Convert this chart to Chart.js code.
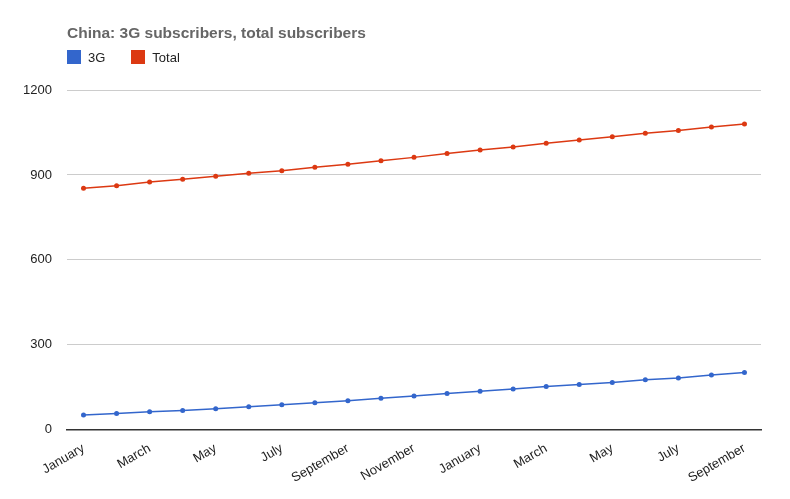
<!DOCTYPE html>
<html>
<head>
<meta charset="utf-8">
<script src="https://cdn.jsdelivr.net/npm/chart.js@4/dist/chart.umd.min.js"></script>
<style>
  html, body { margin: 0; padding: 0; background: #fff; }
  #wrap { position: relative; width: 790px; height: 499px; font-family: "Liberation Sans", Arial, sans-serif; }
  #title { position: absolute; left: 67px; top: 24px; font-size: 15.5px; font-weight: bold; color: #666; }
  #legend { position: absolute; left: 67px; top: 50px; font-size: 13px; color: #222; }
  .item { display: inline-block; margin-right: 26px; }
  .sw { display: inline-block; width: 14px; height: 14px; vertical-align: -2px; margin-right: 7px; }
  canvas { position: absolute; left: 0; top: 0; }
</style>
</head>
<body>
<div id="wrap">
  <canvas id="myChart" width="790" height="499"></canvas>
  <div id="title">China: 3G subscribers, total subscribers</div>
  <div id="legend"></div>
</div>
<script>
const months = ["January", "February", "March", "April", "May", "June", "July", "August",
  "September", "October", "November", "December",
  "January", "February", "March", "April", "May", "June", "July", "August", "September"];
const subs3g = [52, 57, 63, 68, 74, 81, 88, 95, 102, 111, 119, 128, 136, 144, 153, 160, 167, 176, 183, 193, 202];
const subsTotal = [853, 862, 875, 885, 895, 906, 915, 927, 938, 950, 962, 976, 988, 999, 1012, 1023, 1035, 1047, 1057, 1069, 1080];
const yTicks = [0, 300, 600, 900, 1200];

const blue = "#3366cc";
const red = "#dc3912";

const legend = document.getElementById("legend");
[["3G", blue], ["Total", red]].forEach(([name, color]) => {
  const el = document.createElement("span");
  el.className = "item";
  el.innerHTML = '<span class="sw" style="background:' + color + '"></span>' + name;
  legend.appendChild(el);
});

const data = {
  labels: months,
  datasets: [
    { label: "3G", data: subs3g, borderColor: blue, backgroundColor: blue },
    { label: "Total", data: subsTotal, borderColor: red, backgroundColor: red },
  ],
};

const config = {
  type: "line",
  data: data,
  options: {
    responsive: false,
    animation: false,
    layout: { padding: { top: 90, right: 29, bottom: 10, left: 0 } },
    elements: {
      line: { borderWidth: 1.5, tension: 0 },
      point: { radius: 2.5, borderWidth: 0 },
    },
    plugins: { legend: { display: false }, title: { display: false }, tooltip: { enabled: false } },
    scales: {
      x: {
        offset: true,
        grid: { display: false },
        border: { color: "#333", width: 1.5 },
        ticks: {
          autoSkip: false,
          maxRotation: 30,
          minRotation: 30,
          color: "#222",
          font: { family: "Liberation Sans", size: 13 },
          callback: (v, i) => (i % 2 === 0 ? months[i] : ""),
        },
      },
      y: {
        min: 0,
        max: 1200,
        afterBuildTicks: (scale) => { scale.ticks = yTicks.map((v) => ({ value: v })); },
        afterFit: (scale) => { scale.width = 67; },
        grid: { color: "#ccc", drawTicks: false },
        border: { display: false },
        ticks: {
          padding: 15,
          color: "#222",
          font: { family: "Liberation Sans", size: 13 },
          callback: (v) => String(v),
        },
      },
    },
  },
};

const ctx = document.getElementById("myChart").getContext("2d");
new Chart(ctx, config);
</script>
</body>
</html>
